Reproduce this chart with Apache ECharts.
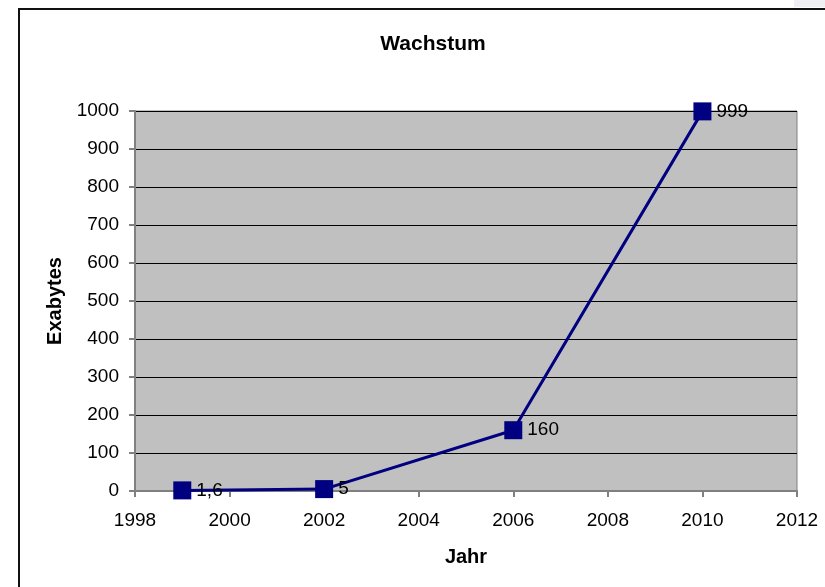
<!DOCTYPE html>
<html>
<head>
<meta charset="utf-8">
<script src="https://cdn.jsdelivr.net/npm/echarts@6/dist/echarts.min.js"></script>
<style>
  html, body { margin: 0; padding: 0; background: #fff; }
  #chart { width: 825px; height: 587px; }
</style>
</head>
<body>
<div id="chart"></div>
<script>
const years = [1999, 2002, 2006, 2010]
const exabytes = [1.6, 5, 160, 999]
const valueLabels = ['1,6', '5', '160', '999']

const chart = echarts.init(document.getElementById('chart'), null, { renderer: 'canvas' })
const font = 'Arial, "Liberation Sans", sans-serif'

chart.setOption({
  animation: false,
  backgroundColor: '#fff',
  textStyle: { fontFamily: font },
  title: {
    text: 'Wachstum',
    left: 428,
    top: 29,
    textAlign: 'center',
    textStyle: { fontSize: 21, fontWeight: 'bold', color: '#000', fontFamily: font }
  },
  graphic: [
    // light strip in top right corner
    { type: 'rect', shape: { x: 794, y: 0, width: 40, height: 7 }, style: { fill: '#f0f0f4' }, z: -1 },
    // chart frame
    { type: 'rect', shape: { x: 19, y: 9, width: 820, height: 600 }, style: { fill: 'none', stroke: '#111', lineWidth: 2 } }
  ],
  grid: {
    left: 135, right: 28, top: 111, bottom: 96,
    show: true,
    backgroundColor: '#c0c0c0',
    borderColor: '#808080',
    borderWidth: 1
  },
  xAxis: {
    type: 'value',
    min: 1998,
    max: 2012,
    interval: 2,
    name: 'Jahr',
    nameLocation: 'middle',
    nameGap: 56,
    nameTextStyle: { fontSize: 20, fontWeight: 'bold', color: '#000' },
    axisLine: { show: true, lineStyle: { color: '#808080', width: 2 } },
    axisTick: { show: true, length: 6, lineStyle: { color: '#808080', width: 2 } },
    axisLabel: { fontSize: 19, color: '#000', margin: 20, formatter: v => String(v) },
    splitLine: { show: false }
  },
  yAxis: {
    type: 'value',
    min: 0,
    max: 1000,
    interval: 100,
    name: 'Exabytes',
    nameLocation: 'middle',
    nameRotate: 90,
    nameGap: 69,
    nameTextStyle: { fontSize: 20, fontWeight: 'bold', color: '#000' },
    axisLine: { show: true, lineStyle: { color: '#808080', width: 2 } },
    axisTick: { show: true, length: 6, lineStyle: { color: '#808080', width: 2 } },
    axisLabel: { fontSize: 19, color: '#000', margin: 16, formatter: v => String(v) },
    splitLine: { show: true, lineStyle: { color: '#000', width: 1 } }
  },
  series: [{
    type: 'line',
    data: years.map((y, i) => [y, exabytes[i]]),
    symbol: 'rect',
    symbolSize: 18,
    lineStyle: { color: '#000080', width: 3 },
    itemStyle: { color: '#000080' },
    label: {
      show: true,
      position: 'right',
      distance: 5,
      fontSize: 19,
      color: '#000',
      formatter: p => valueLabels[p.dataIndex]
    }
  }]
})
</script>
</body>
</html>
